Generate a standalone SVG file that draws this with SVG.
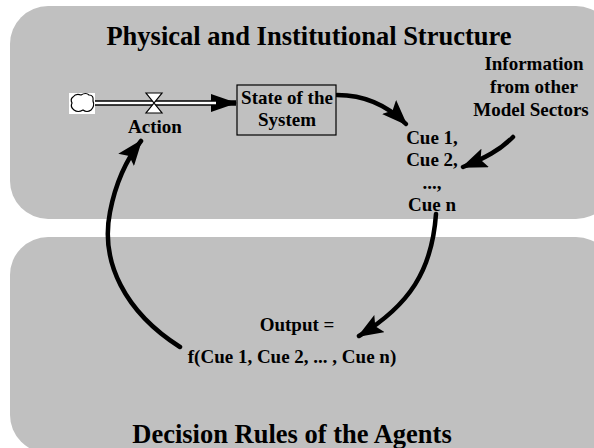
<svg xmlns="http://www.w3.org/2000/svg" width="594" height="448" viewBox="0 0 594 448">
<style>
.panel{fill:#c0c0c0;stroke:none}
.t{font-family:"Liberation Serif","Times New Roman",serif;font-weight:bold;fill:#000;text-anchor:middle}
.title{font-size:26.5px}
.lbl{font-size:19px}
.link{fill:none;stroke:#000;stroke-width:4.5;stroke-linecap:round}
</style>
<defs>
<marker id="ah" markerUnits="userSpaceOnUse" markerWidth="26" markerHeight="20" viewBox="0 0 26 20" refX="24" refY="10" orient="auto">
<path d="M0,0 L26,10 L0,20 L5,10 Z" fill="#000"/>
</marker>
<marker id="fh" markerUnits="userSpaceOnUse" markerWidth="26" markerHeight="18" viewBox="0 0 26 18" refX="25" refY="9" orient="auto">
<path d="M0,0 L26,9 L0,18 Z" fill="#000"/>
</marker>
</defs>
<rect width="594" height="448" fill="#fff"/>
<g id="physical-structure">
<rect class="panel" x="10" y="6" width="604" height="213" rx="38" ry="38"/>
<text class="t title" x="309" y="45">Physical and Institutional Structure</text>
</g>
<g id="decision-rules">
<rect class="panel" x="10" y="237" width="604" height="216" rx="38" ry="38"/>
<text class="t title" x="292" y="443">Decision Rules of the Agents</text>
</g>
<g id="source-cloud">
<rect x="69" y="93" width="26" height="21" fill="#fff"/>
<path d="M73,97 Q76,93 81,95 Q86,92 89,95 Q94,95 93,101 Q95,106 91,110 Q87,113 83,110 Q78,113 74,110 Q70,107 72,103 Q70,99 73,97 Z" fill="#fff" stroke="#000" stroke-width="1.2"/>
</g>
<g id="connectors">
<path d="M95,103 L236,103" stroke="#000" stroke-width="5.5" fill="none" marker-end="url(#fh)"/>
<path d="M95,103 L216,103" stroke="#fff" stroke-width="2.5" fill="none"/>
<path class="link" d="M337,95 C365,95 388,106 406,124" marker-end="url(#ah)"/>
<path class="link" d="M513,137 C500,150 485,158 463,167" marker-end="url(#ah)"/>
<path class="link" d="M436,214 C432,270 410,305 359,336" marker-end="url(#ah)"/>
<path class="link" d="M180,347 C125,312 100,262 110,212 C115,186 126,160 141,141" marker-end="url(#ah)"/>
</g>
<g id="action">
<path d="M146,93 L162,93 L146,113 L162,113 Z" fill="#fff" stroke="#000" stroke-width="1.2"/>
<text class="t lbl" x="155" y="133">Action</text>
</g>
<g id="state-of-the-system">
<rect x="237" y="85" width="99" height="50" fill="#c0c0c0" stroke="#000" stroke-width="1.2"/>
<text class="t lbl" x="287" y="104">State of the</text>
<text class="t lbl" x="287" y="126">System</text>
</g>
<g id="information">
<text class="t lbl" x="534" y="70">Information</text>
<text class="t lbl" x="534" y="93">from other</text>
<text class="t lbl" x="531" y="116">Model Sectors</text>
</g>
<g id="cues">
<text class="t lbl" x="432" y="144">Cue 1,</text>
<text class="t lbl" x="432" y="166">Cue 2,</text>
<text class="t lbl" x="432" y="189">...,</text>
<text class="t lbl" x="432" y="211">Cue n</text>
</g>
<g id="output">
<text class="t lbl" x="297" y="331">Output =</text>
<text class="t lbl" x="292" y="363">f(Cue 1, Cue 2, ... , Cue n)</text>
</g>
</svg>
